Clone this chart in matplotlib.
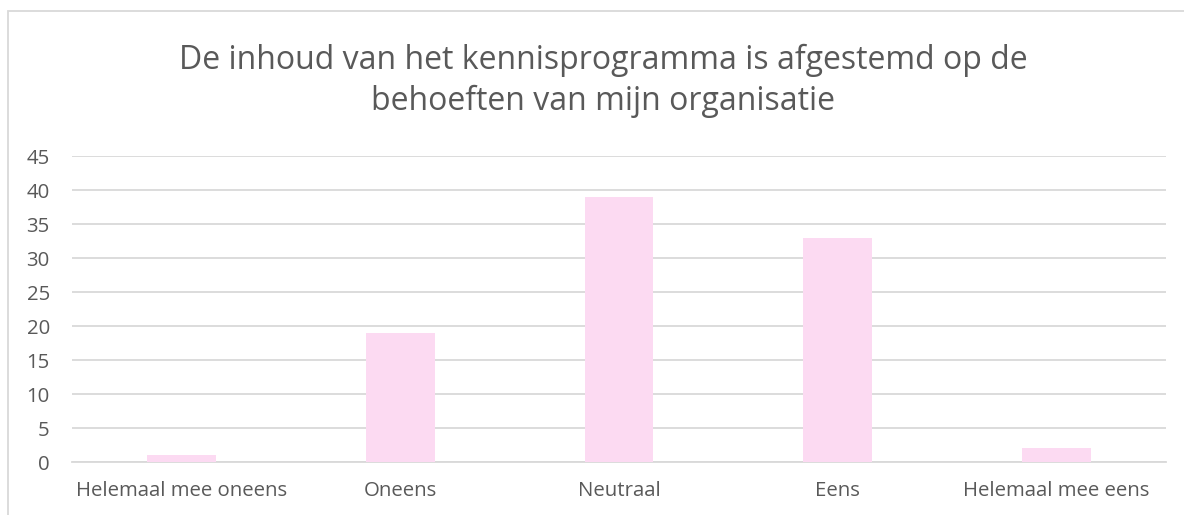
import matplotlib
matplotlib.use("Agg")
import matplotlib.pyplot as plt
from matplotlib.patches import Rectangle

categories = ["Helemaal mee oneens", "Oneens", "Neutraal", "Eens", "Helemaal mee eens"]
counts = [1, 19, 39, 33, 2]
yticks = [0, 5, 10, 15, 20, 25, 30, 35, 40, 45]
title = "De inhoud van het kennisprogramma is afgestemd op de\nbehoeften van mijn organisatie"

plt.rcParams['font.family'] = ['Open Sans', 'DejaVu Sans']
grey_text = "#595959"
grid_col = "#D9D9D9"

fig = plt.figure(figsize=(11.84, 5.15), dpi=100)
ax = fig.add_axes([72 / 1184, 1 - 462 / 515, (1166 - 72) / 1184, (462 - 156) / 515])

# chart border like in excel
fig.patches.append(Rectangle((8 / 1184, -0.1), 1.2, 1 - 11 / 515 + 0.1, transform=fig.transFigure,
                             fill=False, edgecolor=grid_col, linewidth=1.3, zorder=0))

ax.bar(range(len(categories)), counts, width=0.315, color="#FCDAF2", zorder=3)

ax.set_xlim(-0.5, len(categories) - 0.5)
ax.set_ylim(0, 45)
ax.set_yticks(yticks)
ax.set_xticks(range(len(categories)))
ax.set_xticklabels(categories)
ax.yaxis.grid(True, color=grid_col, linewidth=1.3, zorder=0)
for s in ["top", "right", "left"]:
    ax.spines[s].set_visible(False)
ax.spines["bottom"].set_color(grid_col)
ax.spines["bottom"].set_linewidth(1.3)
ax.tick_params(axis="both", length=0, labelsize=14.7, labelcolor=grey_text)
ax.tick_params(axis="y", pad=16)
ax.tick_params(axis="x", pad=14)

fig.text(603 / 1184, 1 - 81 / 515, title, ha="center", va="center", fontsize=23,
         color=grey_text, linespacing=1.3)

fig.savefig("out.png", dpi=100)
